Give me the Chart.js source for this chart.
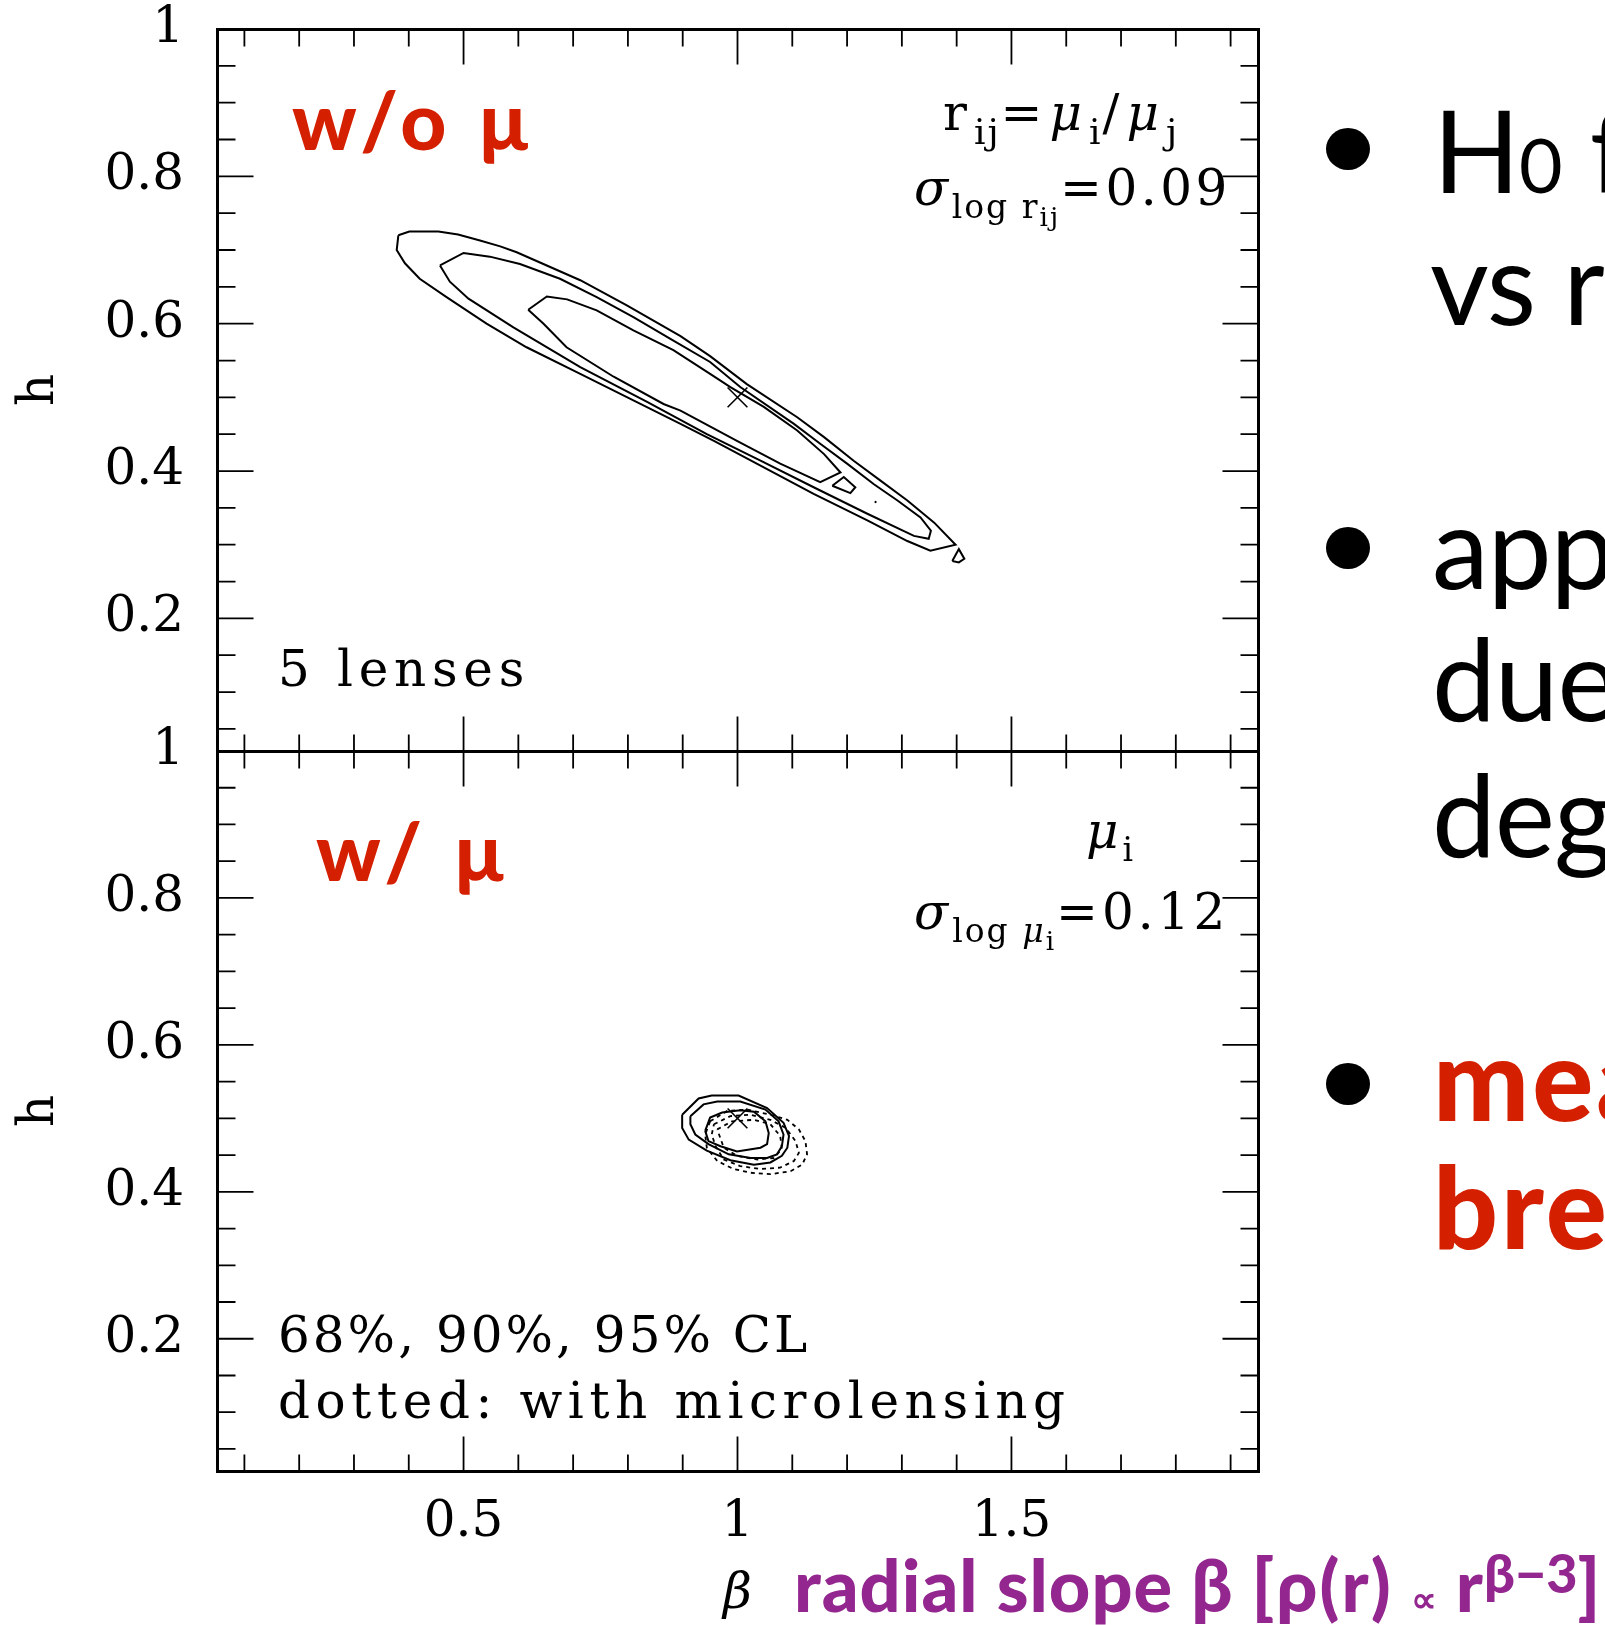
<!DOCTYPE html>
<html>
<head>
<meta charset="utf-8">
<script src="https://cdn.jsdelivr.net/npm/chart.js@4.4.0/dist/chart.umd.min.js"></script>
<style>
html, body { margin: 0; padding: 0; background: #fff; }
body { width: 1605px; height: 1625px; position: relative; overflow: hidden; }
canvas { position: absolute; left: 0; }
#c1 { top: 0; }
#c2 { top: 700px; }
.t { position: absolute; white-space: nowrap; line-height: 1; }
.serif { font-family: 'DejaVu Serif', serif; font-size: 50px; letter-spacing: 4px; color: #000; }
.serif sub { font-size: 0.66em; vertical-align: -0.38em; line-height: 0; letter-spacing: 2px; }
.serif sub sub { font-size: 0.8em; vertical-align: -0.3em; }
.serif i { font-style: italic; }
.red { font-family: Lato, sans-serif; font-weight: 900; color: #d42000; font-size: 80px; letter-spacing: 6px; }
.big { font-family: Lato, sans-serif; font-size: 114px; color: #000; letter-spacing: -1px; }
.big.redb { color: #d42000; font-weight: 900; letter-spacing: 3px; }
.zero { font-size: 0.66em; }
.dot { position: absolute; width: 44px; height: 42px; border-radius: 50%; background: #000; }
.purple { font-family: Lato, sans-serif; font-weight: 900; color: #93278f; font-size: 72px; letter-spacing: 1px; }
.purple .wide { letter-spacing: 2px; }
.purple .prop { font-size: 0.5em; }
.purple sup { font-size: 0.75em; vertical-align: 0.35em; line-height: 0; letter-spacing: 0; }
</style>
</head>
<body>
<canvas id="c1" width="1300" height="760"></canvas>
<canvas id="c2" width="1300" height="925"></canvas>

<div class="t red" style="left:292px; top:79px;">w/o µ</div>
<div class="t red" style="left:316px; top:810px;">w/ µ</div>

<div class="t serif" style="left:943px; top:88px; letter-spacing:7px;">r<sub style="font-size:0.72em">ij</sub>=<i>μ</i><sub style="font-size:0.72em">i</sub>/<i>μ</i><sub style="font-size:0.72em">j</sub></div>
<div class="t serif" style="left:914px; top:163px; letter-spacing:3.5px;"><i>σ</i><sub>log r<sub>ij</sub></sub>=0.09</div>
<div class="t serif" style="left:278px; top:644px; letter-spacing:5.7px;">5 lenses</div>
<div class="t serif" style="left:1086px; top:806px;"><i>μ</i><sub>i</sub></div>
<div class="t serif" style="left:914px; top:887px; letter-spacing:4px;"><i>σ</i><sub>log <i>μ</i><sub>i</sub></sub>=0.12</div>
<div class="t serif" style="left:278px; top:1310px; letter-spacing:3px;">68%, 90%, 95% CL</div>
<div class="t serif" style="left:278px; top:1376px; letter-spacing:5.6px;">dotted: with microlensing</div>

<div class="dot" style="left:1326px; top:128px;"></div>
<div class="dot" style="left:1326px; top:527px;"></div>
<div class="dot" style="left:1326px; top:1063px;"></div>
<div class="t big" style="left:1433px; top:92px;">H<span class="zero">0</span> from lenses</div>
<div class="t big" style="left:1430px; top:224px;">vs radial slope</div>
<div class="t big" style="left:1432px; top:488px;">approximate</div>
<div class="t big" style="left:1432px; top:620px;">due to</div>
<div class="t big" style="left:1432px; top:756px;">degeneracy</div>
<div class="t big redb" style="left:1433px; top:1020px;">measured µ</div>
<div class="t big redb" style="left:1433px; top:1148px;">breaks it</div>

<div class="t purple" style="left:794px; top:1548px;">radial slope β <span class="wide">[ρ(r)</span> <span class="prop">∝</span> r<sup>β−3</sup>]</div>

<script>
// axis ticks
const xTickVals = [0.5, 1, 1.5];
const xTickText = ['0.5', '1', '1.5'];
const yTickVals = [0.2, 0.4, 0.6, 0.8, 1];
const yTickText = ['0.2', '0.4', '0.6', '0.8', '1'];

// top panel: flux ratios only (beta, h)
const top95 = [[0.381,0.720],[0.401,0.725],[0.454,0.725],[0.490,0.721],[0.530,0.713],[0.567,0.705],[0.597,0.697],
  [0.713,0.659],[0.798,0.625],[0.896,0.583],[0.950,0.556],[1.017,0.518],[1.109,0.473],[1.158,0.446],[1.212,0.414],
  [1.261,0.387],[1.310,0.360],[1.359,0.330],[1.398,0.300],[1.352,0.292],[1.310,0.305],[1.237,0.333],[1.139,0.369],
  [1.048,0.405],[0.957,0.441],[0.896,0.464],[0.810,0.496],[0.713,0.532],[0.615,0.568],[0.542,0.600],[0.469,0.636],
  [0.420,0.661],[0.393,0.682],[0.378,0.700]];
const top95b = [[1.392,0.278],[1.404,0.294],[1.414,0.281],[1.404,0.276]];
const top90 = [[0.457,0.679],[0.500,0.696],[0.548,0.691],[0.603,0.681],[0.676,0.661],[0.743,0.636],[0.810,0.609],
  [0.883,0.577],[0.950,0.548],[1.005,0.514],[1.103,0.464],[1.151,0.437],[1.200,0.410],[1.249,0.382],[1.292,0.360],
  [1.334,0.337],[1.353,0.319],[1.349,0.308],[1.322,0.312],[1.237,0.342],[1.139,0.378],[1.042,0.414],[0.944,0.450],
  [0.835,0.494],[0.713,0.541],[0.591,0.595],[0.509,0.634],[0.475,0.657]];
const top68 = [[0.618,0.619],[0.652,0.637],[0.689,0.633],[0.743,0.618],[0.810,0.591],[0.883,0.564],[0.950,0.532],
  [0.987,0.514],[1.048,0.487],[1.109,0.455],[1.158,0.423],[1.188,0.398],[1.151,0.385],[1.078,0.410],[0.999,0.441],
  [0.896,0.482],[0.865,0.491],[0.774,0.528],[0.688,0.568],[0.646,0.600]];
const top68b = [[1.173,0.380],[1.194,0.392],[1.215,0.378],[1.206,0.370]];
const topSpeck = [[1.252,0.358]];

// bottom panel: with magnifications
const bot95 = [[0.899,0.505],[0.929,0.527],[0.953,0.531],[1.002,0.531],[1.054,0.514],[1.084,0.494],[1.094,0.476],
  [1.091,0.460],[1.081,0.449],[1.060,0.440],[1.030,0.437],[0.987,0.443],[0.944,0.456],[0.911,0.471],[0.899,0.487]];
const bot90 = [[0.914,0.503],[0.938,0.519],[0.963,0.523],[1.005,0.523],[1.051,0.512],[1.075,0.496],[1.084,0.478],
  [1.081,0.462],[1.072,0.451],[1.054,0.446],[1.024,0.446],[0.984,0.451],[0.947,0.465],[0.923,0.478],[0.914,0.492]];
const bot68 = [[0.941,0.483],[0.950,0.501],[0.972,0.508],[1.005,0.511],[1.030,0.509],[1.051,0.496],[1.057,0.480],
  [1.054,0.465],[1.042,0.460],[0.999,0.455],[0.969,0.462],[0.947,0.469]];
const micro95 = [[0.950,0.496],[0.981,0.510],[1.017,0.512],[1.060,0.505],[1.091,0.498],[1.112,0.485],[1.124,0.469],
  [1.127,0.451],[1.118,0.437],[1.097,0.428],[1.060,0.424],[1.024,0.426],[0.993,0.431],[0.963,0.442],[0.944,0.460],[0.941,0.478]];
const micro90 = [[0.957,0.492],[0.987,0.503],[1.024,0.505],[1.060,0.498],[1.088,0.487],[1.106,0.469],[1.112,0.453],
  [1.103,0.442],[1.078,0.433],[1.042,0.431],[1.005,0.435],[0.975,0.444],[0.960,0.462],[0.953,0.478]];
const micro68 = [[0.963,0.485],[0.990,0.496],[1.030,0.498],[1.060,0.492],[1.078,0.476],[1.081,0.458],[1.066,0.446],
  [1.036,0.444],[0.999,0.449],[0.975,0.460]];

const bestFit = [[1.0, 0.5]];

Chart.defaults.font.family = "'DejaVu Serif', serif";
Chart.defaults.color = '#000';

function pts(list, close) {
  const p = list.map(d => ({x: d[0], y: d[1]}));
  if (close) p.push({x: list[0][0], y: list[0][1]});
  return p;
}

function contour(list, dotted) {
  return {
    data: pts(list, true),
    showLine: true,
    borderColor: '#000',
    borderWidth: dotted ? 1.8 : 2,
    borderDash: dotted ? [4, 4] : [],
    pointRadius: 0,
    tension: 0,
    fill: false
  };
}

function marker(list, r) {
  return {
    data: pts(list, false),
    showLine: false,
    pointStyle: 'crossRot',
    pointRadius: r,
    borderColor: '#000',
    borderWidth: 1.6
  };
}

const frameTicks = {
  id: 'frameTicks',
  afterDatasetsDraw(chart) {
    const {ctx, chartArea: a, scales: {x, y}} = chart;
    const L = Math.round(a.left) + 0.5, R = Math.round(a.right) + 0.5;
    const T = Math.round(a.top) + 0.5, B = Math.round(a.bottom) + 0.5;
    ctx.save();
    ctx.strokeStyle = '#000';
    ctx.lineWidth = 1.8;
    ctx.beginPath();
    for (let k = 1; k <= 19; k++) {
      const v = k / 10;
      const len = xTickVals.some(m => Math.abs(m - v) < 1e-9) ? 35 : 17;
      const px = x.getPixelForValue(v);
      ctx.moveTo(px, B); ctx.lineTo(px, B - len);
      ctx.moveTo(px, T); ctx.lineTo(px, T + len);
    }
    for (let k = 1; k <= 19; k++) {
      const v = k / 20;
      const len = k % 4 === 0 ? 36 : 18;
      const py = y.getPixelForValue(v);
      ctx.moveTo(L, py); ctx.lineTo(L + len, py);
      ctx.moveTo(R, py); ctx.lineTo(R - len, py);
    }
    ctx.stroke();
    ctx.lineWidth = 3;
    ctx.strokeRect(L, T, R - L, B - T);
    ctx.restore();
  }
};

function makeChart(id, datasets, showX, padding) {
  return new Chart(document.getElementById(id), {
    type: 'scatter',
    data: {datasets: datasets},
    options: {
      responsive: false,
      animation: false,
      layout: {padding: padding, autoPadding: false},
      plugins: {legend: {display: false}, tooltip: {enabled: false}},
      scales: {
        x: {
          type: 'linear', min: 0.05, max: 1.95, display: showX,
          afterBuildTicks: s => { s.ticks = xTickVals.map(v => ({value: v})); },
          afterFit: s => {
            if (showX) s.height = 154;
            s.paddingLeft = 0; s.paddingRight = 0;
          },
          ticks: {padding: 22, autoSkip: false, maxRotation: 0, font: {size: 50},
                  callback: v => xTickText[xTickVals.indexOf(v)]},
          grid: {display: false, drawTicks: false},
          border: {display: false},
          title: {display: showX, text: 'β', font: {size: 50, style: 'italic'}, padding: {top: 0, bottom: 0}}
        },
        y: {
          type: 'linear', min: 0.02, max: 1,
          afterBuildTicks: s => { s.ticks = yTickVals.map(v => ({value: v})); },
          afterFit: s => { s.width = 217; s.paddingTop = 0; s.paddingBottom = 0; },
          ticks: {padding: 33, autoSkip: false, font: {size: 50},
                  callback: v => yTickText[yTickVals.indexOf(v)]},
          grid: {display: false, drawTicks: false},
          border: {display: false},
          title: {display: true, text: 'h', font: {size: 50}, padding: {top: 10, bottom: 0}}
        }
      }
    },
    plugins: [frameTicks]
  });
}

makeChart('c1', [
  contour(top95), contour(top95b), contour(top90), contour(top68), contour(top68b),
  marker(topSpeck, 1), marker(bestFit, 14)
], false, {top: 29, right: 42, bottom: 9, left: 0});

makeChart('c2', [
  contour(bot95), contour(bot90), contour(bot68),
  contour(micro95, true), contour(micro90, true), contour(micro68, true),
  marker(bestFit, 14)
], true, {top: 51, right: 42, bottom: 0, left: 0});
</script>
</body>
</html>
